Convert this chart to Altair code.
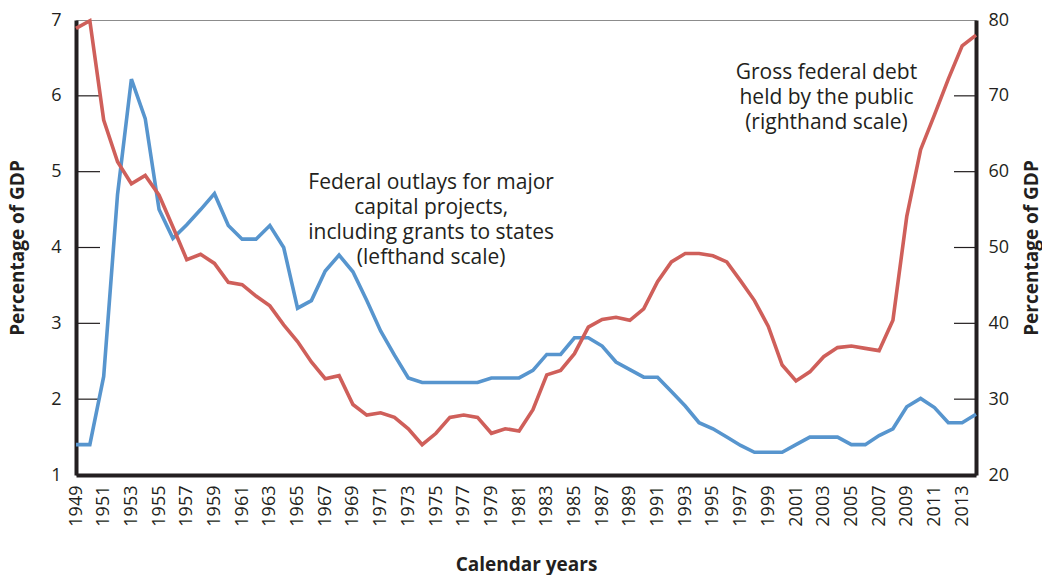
import altair as alt
import pandas as pd

years = list(range(1949, 2015))
outlays = [1.4, 1.4, 2.3, 4.7, 6.22, 5.7, 4.5, 4.12, 4.3, 4.5,
           4.71, 4.29, 4.11, 4.11, 4.29, 4.0, 3.2, 3.3, 3.69, 3.9,
           3.68, 3.3, 2.9, 2.58, 2.28, 2.22, 2.22, 2.22, 2.22, 2.22,
           2.28, 2.28, 2.28, 2.38, 2.59, 2.59, 2.81, 2.81, 2.7, 2.49,
           2.39, 2.29, 2.29, 2.1, 1.91, 1.69, 1.61, 1.5, 1.39, 1.3,
           1.3, 1.3, 1.4, 1.5, 1.5, 1.5, 1.4, 1.4, 1.52, 1.61,
           1.9, 2.01, 1.89, 1.69, 1.69, 1.8]
debt = [78.9, 79.9, 66.8, 61.3, 58.4, 59.5, 56.9, 52.7, 48.4, 49.1,
        47.9, 45.4, 45.1, 43.6, 42.3, 39.8, 37.6, 34.9, 32.7, 33.1,
        29.3, 27.9, 28.2, 27.6, 26.1, 24.0, 25.5, 27.6, 27.9, 27.6,
        25.5, 26.1, 25.8, 28.6, 33.2, 33.8, 36.0, 39.5, 40.5, 40.8,
        40.4, 41.9, 45.5, 48.1, 49.2, 49.2, 48.9, 48.1, 45.6, 43.0,
        39.6, 34.5, 32.4, 33.6, 35.6, 36.8, 37.0, 36.7, 36.4, 40.4,
        54.1, 62.9, 67.5, 72.2, 76.6, 78.0]
x_labels = list(range(1949, 2014, 2))
left_values = [1, 2, 3, 4, 5, 6, 7]
right_values = [20, 30, 40, 50, 60, 70, 80]
left_ticks = [2, 3, 4, 5, 6]
right_ticks = [30, 40, 50, 60, 70]
outlays_note = ["Federal outlays for major", "capital projects,",
                "including grants to states", "(lefthand scale)"]
debt_note = ["Gross federal debt", "held by the public", "(righthand scale)"]

W, H = 900, 455
INK = "#231f20"
BLUE = "#5795ce"
RED = "#cf5f5a"
FONT = "Open Sans"

df = pd.DataFrame({"year": years, "outlays": outlays, "debt": debt})
lt = pd.DataFrame({"v": left_ticks})
rt = pd.DataFrame({"v": right_ticks})
ln = pd.DataFrame({"year": [1974.65], "v": [4.85], "t": ["\n".join(outlays_note)]})
rn = pd.DataFrame({"year": [2003.2], "v": [73.0], "t": ["\n".join(debt_note)]})

xs = alt.Scale(domain=[1949, 2014], nice=False, zero=False)
x_axis = alt.Axis(values=x_labels, format="d", labelAngle=270, labelAlign="right",
                  labelBaseline="middle", ticks=False, grid=False, domainWidth=4,
                  domainColor=INK, labelFontSize=18, labelColor=INK, labelPadding=10,
                  labelFont=FONT, title="Calendar years", titleFontSize=19,
                  titleFont=FONT, titleFontWeight="bold", titleColor=INK, titlePadding=29)
X = alt.X("year:Q", scale=xs, axis=x_axis)

ls = alt.Scale(domain=[1, 7], nice=False, zero=False)
l_axis = alt.Axis(values=left_values, ticks=False, grid=False, domainWidth=4,
                  domainColor=INK, labelFontSize=18, labelColor=INK, labelPadding=15,
                  labelFont=FONT, title="Percentage of GDP", titleFontSize=19,
                  titleFont=FONT, titleFontWeight="bold", titleColor=INK, titlePadding=23)
rs = alt.Scale(domain=[20, 80], nice=False, zero=False)
r_axis = alt.Axis(orient="right", values=right_values, ticks=False, grid=False,
                  domainWidth=4, domainColor=INK, labelFontSize=18, labelColor=INK,
                  labelPadding=12, labelFont=FONT, title="Percentage of GDP",
                  titleFontSize=19, titleFont=FONT, titleFontWeight="bold",
                  titleColor=INK, titlePadding=14, titleAngle=270, titleBaseline="top")

blue = alt.Chart(df).mark_line(color=BLUE, strokeWidth=3.6).encode(
    x=X, y=alt.Y("outlays:Q", scale=ls, axis=l_axis))
lrule = alt.Chart(lt).mark_rule(color=INK, strokeWidth=1.2).encode(
    y=alt.Y("v:Q", scale=ls, axis=l_axis), x=alt.value(0), x2=alt.value(24))
ltext = alt.Chart(ln).mark_text(font=FONT, fontSize=21, lineHeight=25, lineBreak="\n",
                                align="center", baseline="middle", color=INK).encode(
    x=X, y=alt.Y("v:Q", scale=ls, axis=l_axis), text="t:N")

red = alt.Chart(df).mark_line(color=RED, strokeWidth=3.6).encode(
    x=X, y=alt.Y("debt:Q", scale=rs, axis=r_axis))
rrule = alt.Chart(rt).mark_rule(color=INK, strokeWidth=1.2).encode(
    y=alt.Y("v:Q", scale=rs, axis=r_axis), x=alt.value(W - 22), x2=alt.value(W))
rtext = alt.Chart(rn).mark_text(font=FONT, fontSize=21, lineHeight=25, lineBreak="\n",
                                align="center", baseline="middle", color=INK).encode(
    x=X, y=alt.Y("v:Q", scale=rs, axis=r_axis), text="t:N")

left = alt.layer(lrule, blue, ltext)
right = alt.layer(rrule, red, rtext)

chart = alt.layer(left, right).resolve_scale(y="independent").properties(
    width=W, height=H, padding={"left": 0, "top": 3, "right": 0, "bottom": 0}
).configure_view(stroke="#8c8c8c", strokeWidth=1)

chart.save("out.html", embed_options={"renderer": "svg", "actions": False})
